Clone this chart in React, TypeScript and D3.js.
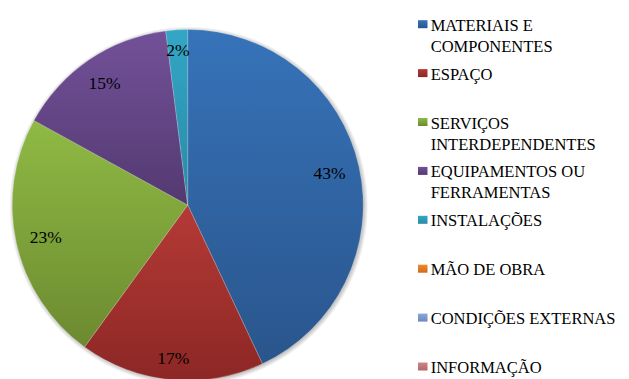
import React from "react";
import * as d3 from "d3";

const categories = [
  "MATERIAIS E COMPONENTES",
  "ESPAÇO",
  "SERVIÇOS INTERDEPENDENTES",
  "EQUIPAMENTOS OU FERRAMENTAS",
  "INSTALAÇÕES",
  "MÃO DE OBRA",
  "CONDIÇÕES EXTERNAS",
  "INFORMAÇÃO",
];
const legendLines = [
  ["MATERIAIS E", "COMPONENTES"],
  ["ESPAÇO"],
  ["SERVIÇOS", "INTERDEPENDENTES"],
  ["EQUIPAMENTOS OU", "FERRAMENTAS"],
  ["INSTALAÇÕES"],
  ["MÃO DE OBRA"],
  ["CONDIÇÕES EXTERNAS"],
  ["INFORMAÇÃO"],
];
const values = [43, 17, 23, 15, 2, 0, 0, 0];
const topColors = ["#3673B9", "#B53A36", "#8FBA44", "#735199", "#33A6C6", "#F08A30", "#8AA8D8", "#D08487"];
const bottomColors = ["#2A558C", "#8C2725", "#6C8A30", "#533971", "#2A8AA6", "#D06A18", "#6D88BF", "#B4656A"];

const W = 629;
const H = 379;
const cx = 187.7;
const cy = 205;
const R = 175.5;
const FS = 17.5;
const LFS = 16.5;
const FONT = "Times New Roman";

export default function App() {
  const pie = d3.pie<number>().value((d) => d).sort(null);
  const arcs = pie(values);
  const arc = d3.arc<d3.PieArcDatum<number>>().innerRadius(0).outerRadius(R);

  const labelW = (t: string) => t.length * 0.6 * FS;
  const labelH = 12;
  const labelOuter = 162;

  const legendX = 418;
  const legendY0 = 30.7;
  const legendStep = 48.9;
  const lineH = 21;

  const labels = arcs
    .filter((a) => a.value > 0)
    .map((a) => {
      const t = `${a.value}%`;
      const mid = (a.startAngle + a.endAngle) / 2;
      const dx = Math.sin(mid);
      const dy = -Math.cos(mid);
      const w = labelW(t);
      const sx = Math.sign(dx) * (w / 2);
      const sy = Math.sign(dy) * (labelH / 2);
      const b = 2 * (dx * sx + dy * sy);
      const c = sx * sx + sy * sy - labelOuter * labelOuter;
      const rho = (-b + Math.sqrt(b * b - 4 * c)) / 2;
      return { t, x: cx + rho * dx, y: cy + rho * dy + labelH / 2 };
    });

  const shadowR = R + 4;

  return (
    <div style={{ position: "absolute", left: 0, top: 0 }}>
      <svg width={W} height={H} style={{ display: "block", background: "#fff" }}>
        <defs>
          {topColors.map((c, i) => (
            <linearGradient key={i} id={`g${i}`} x1="0" y1="0" x2="0" y2="1">
              <stop offset="0" stopColor={c} />
              <stop offset="1" stopColor={bottomColors[i]} />
            </linearGradient>
          ))}
          <radialGradient id="shadow" cx="0.5" cy="0.5" r="0.5">
            <stop offset={(R - 3) / shadowR} stopColor="#000" stopOpacity={0.35} />
            <stop offset="1" stopColor="#000" stopOpacity={0} />
          </radialGradient>
        </defs>
        <circle cx={cx + 1} cy={cy + 1} r={shadowR} fill="url(#shadow)" />
        <g transform={`translate(${cx},${cy})`}>
          {arcs.map((a, i) =>
            a.value > 0 ? (
              <path key={i} d={arc(a) || ""} fill={`url(#g${i})`} stroke="#ffffff" strokeOpacity={0.35} strokeWidth={0.6} />
            ) : null
          )}
        </g>
        {labels.map((l) => (
          <text key={l.t} x={l.x} y={l.y} textAnchor="middle" fontFamily={FONT} fontSize={FS}>
            {l.t}
          </text>
        ))}
        {categories.map((cat, i) => (
          <rect key={cat} x={legendX} y={legendY0 + i * legendStep - 10.5} width={9.5} height={8} fill={`url(#g${i})`} />
        ))}
        {legendLines.map((lines, i) =>
          lines.map((ln, j) => (
            <text key={`${i}-${j}`} x={legendX + 12.7} y={legendY0 + i * legendStep + j * lineH} fontFamily={FONT} fontSize={LFS}>
              {ln}
            </text>
          ))
        )}
      </svg>
    </div>
  );
}
